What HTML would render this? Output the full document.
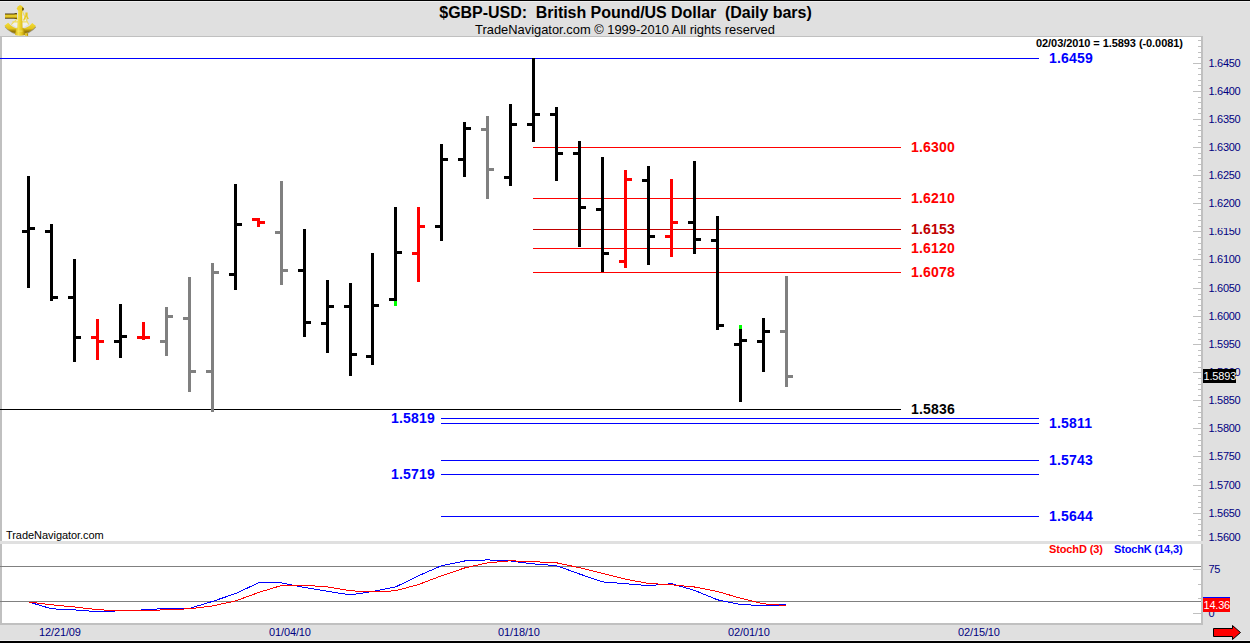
<!DOCTYPE html>
<html><head><meta charset="utf-8"><title>$GBP-USD</title>
<style>
html,body{margin:0;padding:0;}
body{width:1250px;height:643px;overflow:hidden;background:#e0e0e0;position:relative;font-family:"Liberation Sans",sans-serif;}
.t{position:absolute;white-space:pre;line-height:1;}
.ax{position:absolute;left:1208.5px;letter-spacing:-0.3px;font-size:11px;color:#000080;white-space:pre;line-height:1;}
.dt{position:absolute;top:627px;letter-spacing:-0.12px;font-size:11px;color:#000080;white-space:pre;line-height:1;}
.lb{position:absolute;letter-spacing:0.2px;font-size:14px;font-weight:bold;white-space:pre;line-height:1;}
svg{position:absolute;left:0;top:0;}
</style></head><body>

<svg width="1250" height="643" viewBox="0 0 1250 643" shape-rendering="crispEdges">
<rect x="0" y="0" width="1250" height="643" fill="#e0e0e0"/>
<rect x="0" y="0" width="1250" height="1" fill="#000"/>
<rect x="0" y="641" width="1250" height="2" fill="#000"/>
<rect x="0" y="1" width="1250" height="1" fill="#efefef"/>
<rect x="0" y="640" width="1250" height="1" fill="#efefef"/>
<rect x="0" y="36" width="1203" height="506" fill="#c0c0c0"/>
<rect x="2" y="37" width="1199" height="504" fill="#fff"/>
<rect x="0" y="541" width="1203" height="3" fill="#e0e0e0"/>
<rect x="0" y="544" width="1203" height="81" fill="#c0c0c0"/>
<rect x="2" y="544" width="1199" height="79" fill="#fff"/>
<rect x="1198" y="40" width="3" height="1" fill="#c0c0c0"/>
<rect x="1198" y="46" width="3" height="1" fill="#c0c0c0"/>
<rect x="1198" y="52" width="3" height="1" fill="#c0c0c0"/>
<rect x="1198" y="57" width="3" height="1" fill="#c0c0c0"/>
<rect x="1193" y="63" width="8" height="1" fill="#c0c0c0"/>
<rect x="1198" y="68" width="3" height="1" fill="#c0c0c0"/>
<rect x="1198" y="74" width="3" height="1" fill="#c0c0c0"/>
<rect x="1198" y="80" width="3" height="1" fill="#c0c0c0"/>
<rect x="1198" y="85" width="3" height="1" fill="#c0c0c0"/>
<rect x="1193" y="91" width="8" height="1" fill="#c0c0c0"/>
<rect x="1198" y="97" width="3" height="1" fill="#c0c0c0"/>
<rect x="1198" y="102" width="3" height="1" fill="#c0c0c0"/>
<rect x="1198" y="108" width="3" height="1" fill="#c0c0c0"/>
<rect x="1198" y="113" width="3" height="1" fill="#c0c0c0"/>
<rect x="1193" y="119" width="8" height="1" fill="#c0c0c0"/>
<rect x="1198" y="125" width="3" height="1" fill="#c0c0c0"/>
<rect x="1198" y="130" width="3" height="1" fill="#c0c0c0"/>
<rect x="1198" y="136" width="3" height="1" fill="#c0c0c0"/>
<rect x="1198" y="142" width="3" height="1" fill="#c0c0c0"/>
<rect x="1193" y="147" width="8" height="1" fill="#c0c0c0"/>
<rect x="1198" y="153" width="3" height="1" fill="#c0c0c0"/>
<rect x="1198" y="158" width="3" height="1" fill="#c0c0c0"/>
<rect x="1198" y="164" width="3" height="1" fill="#c0c0c0"/>
<rect x="1198" y="170" width="3" height="1" fill="#c0c0c0"/>
<rect x="1193" y="175" width="8" height="1" fill="#c0c0c0"/>
<rect x="1198" y="181" width="3" height="1" fill="#c0c0c0"/>
<rect x="1198" y="187" width="3" height="1" fill="#c0c0c0"/>
<rect x="1198" y="192" width="3" height="1" fill="#c0c0c0"/>
<rect x="1198" y="198" width="3" height="1" fill="#c0c0c0"/>
<rect x="1193" y="203" width="8" height="1" fill="#c0c0c0"/>
<rect x="1198" y="209" width="3" height="1" fill="#c0c0c0"/>
<rect x="1198" y="215" width="3" height="1" fill="#c0c0c0"/>
<rect x="1198" y="220" width="3" height="1" fill="#c0c0c0"/>
<rect x="1198" y="226" width="3" height="1" fill="#c0c0c0"/>
<rect x="1193" y="231" width="8" height="1" fill="#c0c0c0"/>
<rect x="1198" y="237" width="3" height="1" fill="#c0c0c0"/>
<rect x="1198" y="243" width="3" height="1" fill="#c0c0c0"/>
<rect x="1198" y="249" width="3" height="1" fill="#c0c0c0"/>
<rect x="1198" y="254" width="3" height="1" fill="#c0c0c0"/>
<rect x="1193" y="259" width="8" height="1" fill="#c0c0c0"/>
<rect x="1198" y="265" width="3" height="1" fill="#c0c0c0"/>
<rect x="1198" y="271" width="3" height="1" fill="#c0c0c0"/>
<rect x="1198" y="277" width="3" height="1" fill="#c0c0c0"/>
<rect x="1198" y="282" width="3" height="1" fill="#c0c0c0"/>
<rect x="1193" y="288" width="8" height="1" fill="#c0c0c0"/>
<rect x="1198" y="294" width="3" height="1" fill="#c0c0c0"/>
<rect x="1198" y="299" width="3" height="1" fill="#c0c0c0"/>
<rect x="1198" y="305" width="3" height="1" fill="#c0c0c0"/>
<rect x="1198" y="310" width="3" height="1" fill="#c0c0c0"/>
<rect x="1193" y="316" width="8" height="1" fill="#c0c0c0"/>
<rect x="1198" y="322" width="3" height="1" fill="#c0c0c0"/>
<rect x="1198" y="327" width="3" height="1" fill="#c0c0c0"/>
<rect x="1198" y="333" width="3" height="1" fill="#c0c0c0"/>
<rect x="1198" y="339" width="3" height="1" fill="#c0c0c0"/>
<rect x="1193" y="344" width="8" height="1" fill="#c0c0c0"/>
<rect x="1198" y="350" width="3" height="1" fill="#c0c0c0"/>
<rect x="1198" y="355" width="3" height="1" fill="#c0c0c0"/>
<rect x="1198" y="361" width="3" height="1" fill="#c0c0c0"/>
<rect x="1198" y="367" width="3" height="1" fill="#c0c0c0"/>
<rect x="1193" y="372" width="8" height="1" fill="#c0c0c0"/>
<rect x="1198" y="378" width="3" height="1" fill="#c0c0c0"/>
<rect x="1198" y="384" width="3" height="1" fill="#c0c0c0"/>
<rect x="1198" y="389" width="3" height="1" fill="#c0c0c0"/>
<rect x="1198" y="395" width="3" height="1" fill="#c0c0c0"/>
<rect x="1193" y="400" width="8" height="1" fill="#c0c0c0"/>
<rect x="1198" y="406" width="3" height="1" fill="#c0c0c0"/>
<rect x="1198" y="412" width="3" height="1" fill="#c0c0c0"/>
<rect x="1198" y="417" width="3" height="1" fill="#c0c0c0"/>
<rect x="1198" y="423" width="3" height="1" fill="#c0c0c0"/>
<rect x="1193" y="428" width="8" height="1" fill="#c0c0c0"/>
<rect x="1198" y="434" width="3" height="1" fill="#c0c0c0"/>
<rect x="1198" y="440" width="3" height="1" fill="#c0c0c0"/>
<rect x="1198" y="445" width="3" height="1" fill="#c0c0c0"/>
<rect x="1198" y="451" width="3" height="1" fill="#c0c0c0"/>
<rect x="1193" y="456" width="8" height="1" fill="#c0c0c0"/>
<rect x="1198" y="462" width="3" height="1" fill="#c0c0c0"/>
<rect x="1198" y="468" width="3" height="1" fill="#c0c0c0"/>
<rect x="1198" y="474" width="3" height="1" fill="#c0c0c0"/>
<rect x="1198" y="479" width="3" height="1" fill="#c0c0c0"/>
<rect x="1193" y="485" width="8" height="1" fill="#c0c0c0"/>
<rect x="1198" y="490" width="3" height="1" fill="#c0c0c0"/>
<rect x="1198" y="496" width="3" height="1" fill="#c0c0c0"/>
<rect x="1198" y="502" width="3" height="1" fill="#c0c0c0"/>
<rect x="1198" y="507" width="3" height="1" fill="#c0c0c0"/>
<rect x="1193" y="513" width="8" height="1" fill="#c0c0c0"/>
<rect x="1198" y="519" width="3" height="1" fill="#c0c0c0"/>
<rect x="1198" y="524" width="3" height="1" fill="#c0c0c0"/>
<rect x="1198" y="530" width="3" height="1" fill="#c0c0c0"/>
<rect x="1198" y="535" width="3" height="1" fill="#c0c0c0"/>
<rect x="1193" y="569" width="8" height="1" fill="#c0c0c0"/>
<rect x="1198" y="584" width="3" height="1" fill="#c0c0c0"/>
<rect x="1198" y="598" width="3" height="1" fill="#c0c0c0"/>
<rect x="1193" y="613" width="8" height="1" fill="#c0c0c0"/>
<rect x="0" y="58" width="1039" height="1" fill="#0000ff"/>
<rect x="533" y="147" width="368" height="1" fill="#ff0000"/>
<rect x="533" y="198" width="368" height="1" fill="#ff0000"/>
<rect x="533" y="229" width="368" height="1" fill="#c00000"/>
<rect x="533" y="248" width="368" height="1" fill="#ff0000"/>
<rect x="533" y="272" width="368" height="1" fill="#ff0000"/>
<rect x="0" y="409" width="901" height="1" fill="#000"/>
<rect x="441" y="418" width="598" height="1" fill="#0000ff"/>
<rect x="441" y="423" width="598" height="1" fill="#0000ff"/>
<rect x="441" y="460" width="598" height="1" fill="#0000ff"/>
<rect x="441" y="474" width="598" height="1" fill="#0000ff"/>
<rect x="441" y="516" width="598" height="1" fill="#0000ff"/>
<rect x="0" y="566" width="1201" height="1" fill="#808080"/>
<rect x="0" y="601" width="1201" height="1" fill="#808080"/>
<rect x="27" y="176" width="3" height="112" fill="#000000"/>
<rect x="22" y="230" width="5" height="3" fill="#000000"/>
<rect x="30" y="227" width="5" height="3" fill="#000000"/>
<rect x="50" y="224" width="3" height="77" fill="#000000"/>
<rect x="45" y="230" width="5" height="3" fill="#000000"/>
<rect x="53" y="296" width="5" height="3" fill="#000000"/>
<rect x="73" y="259" width="3" height="103" fill="#000000"/>
<rect x="68" y="296" width="5" height="3" fill="#000000"/>
<rect x="76" y="336" width="5" height="3" fill="#000000"/>
<rect x="96" y="319" width="3" height="41" fill="#ff0000"/>
<rect x="91" y="336" width="5" height="3" fill="#ff0000"/>
<rect x="99" y="340" width="5" height="3" fill="#ff0000"/>
<rect x="119" y="304" width="3" height="54" fill="#000000"/>
<rect x="114" y="340" width="5" height="3" fill="#000000"/>
<rect x="122" y="335" width="5" height="3" fill="#000000"/>
<rect x="142" y="322" width="3" height="18" fill="#ff0000"/>
<rect x="137" y="336" width="5" height="3" fill="#ff0000"/>
<rect x="145" y="336" width="5" height="3" fill="#ff0000"/>
<rect x="165" y="307" width="3" height="49" fill="#808080"/>
<rect x="160" y="340" width="5" height="3" fill="#808080"/>
<rect x="168" y="315" width="5" height="3" fill="#808080"/>
<rect x="188" y="277" width="3" height="115" fill="#808080"/>
<rect x="183" y="317" width="5" height="3" fill="#808080"/>
<rect x="191" y="370" width="5" height="3" fill="#808080"/>
<rect x="211" y="263" width="3" height="149" fill="#808080"/>
<rect x="206" y="370" width="5" height="3" fill="#808080"/>
<rect x="214" y="271" width="5" height="3" fill="#808080"/>
<rect x="234" y="184" width="3" height="106" fill="#000000"/>
<rect x="229" y="273" width="5" height="3" fill="#000000"/>
<rect x="237" y="223" width="5" height="3" fill="#000000"/>
<rect x="257" y="218" width="3" height="9" fill="#ff0000"/>
<rect x="252" y="218" width="5" height="3" fill="#ff0000"/>
<rect x="260" y="221" width="5" height="3" fill="#ff0000"/>
<rect x="280" y="181" width="3" height="104" fill="#808080"/>
<rect x="275" y="231" width="5" height="3" fill="#808080"/>
<rect x="283" y="269" width="5" height="3" fill="#808080"/>
<rect x="303" y="229" width="3" height="108" fill="#000000"/>
<rect x="298" y="269" width="5" height="3" fill="#000000"/>
<rect x="306" y="321" width="5" height="3" fill="#000000"/>
<rect x="326" y="280" width="3" height="73" fill="#000000"/>
<rect x="321" y="322" width="5" height="3" fill="#000000"/>
<rect x="329" y="305" width="5" height="3" fill="#000000"/>
<rect x="349" y="283" width="3" height="93" fill="#000000"/>
<rect x="344" y="305" width="5" height="3" fill="#000000"/>
<rect x="352" y="353" width="5" height="3" fill="#000000"/>
<rect x="371" y="253" width="3" height="112" fill="#000000"/>
<rect x="366" y="355" width="5" height="3" fill="#000000"/>
<rect x="374" y="304" width="5" height="3" fill="#000000"/>
<rect x="394" y="207" width="3" height="94" fill="#000000"/>
<rect x="389" y="298" width="5" height="3" fill="#000000"/>
<rect x="397" y="251" width="5" height="3" fill="#000000"/>
<rect x="417" y="207" width="3" height="75" fill="#ff0000"/>
<rect x="412" y="252" width="5" height="3" fill="#ff0000"/>
<rect x="420" y="225" width="5" height="3" fill="#ff0000"/>
<rect x="440" y="144" width="3" height="97" fill="#000000"/>
<rect x="435" y="225" width="5" height="3" fill="#000000"/>
<rect x="443" y="158" width="5" height="3" fill="#000000"/>
<rect x="463" y="122" width="3" height="55" fill="#000000"/>
<rect x="458" y="158" width="5" height="3" fill="#000000"/>
<rect x="466" y="127" width="5" height="3" fill="#000000"/>
<rect x="486" y="116" width="3" height="83" fill="#808080"/>
<rect x="481" y="128" width="5" height="3" fill="#808080"/>
<rect x="489" y="168" width="5" height="3" fill="#808080"/>
<rect x="509" y="104" width="3" height="82" fill="#000000"/>
<rect x="504" y="176" width="5" height="3" fill="#000000"/>
<rect x="512" y="123" width="5" height="3" fill="#000000"/>
<rect x="532" y="58" width="3" height="84" fill="#000000"/>
<rect x="527" y="123" width="5" height="3" fill="#000000"/>
<rect x="535" y="113" width="5" height="3" fill="#000000"/>
<rect x="555" y="107" width="3" height="74" fill="#000000"/>
<rect x="550" y="113" width="5" height="3" fill="#000000"/>
<rect x="558" y="152" width="5" height="3" fill="#000000"/>
<rect x="578" y="141" width="3" height="106" fill="#000000"/>
<rect x="573" y="152" width="5" height="3" fill="#000000"/>
<rect x="581" y="206" width="5" height="3" fill="#000000"/>
<rect x="601" y="157" width="3" height="115" fill="#000000"/>
<rect x="596" y="208" width="5" height="3" fill="#000000"/>
<rect x="604" y="252" width="5" height="3" fill="#000000"/>
<rect x="624" y="170" width="3" height="98" fill="#ff0000"/>
<rect x="619" y="260" width="5" height="3" fill="#ff0000"/>
<rect x="627" y="178" width="5" height="3" fill="#ff0000"/>
<rect x="647" y="166" width="3" height="99" fill="#000000"/>
<rect x="642" y="179" width="5" height="3" fill="#000000"/>
<rect x="650" y="235" width="5" height="3" fill="#000000"/>
<rect x="670" y="179" width="3" height="78" fill="#ff0000"/>
<rect x="665" y="235" width="5" height="3" fill="#ff0000"/>
<rect x="673" y="221" width="5" height="3" fill="#ff0000"/>
<rect x="693" y="161" width="3" height="93" fill="#000000"/>
<rect x="688" y="221" width="5" height="3" fill="#000000"/>
<rect x="696" y="238" width="5" height="3" fill="#000000"/>
<rect x="716" y="216" width="3" height="114" fill="#000000"/>
<rect x="711" y="239" width="5" height="3" fill="#000000"/>
<rect x="719" y="324" width="5" height="3" fill="#000000"/>
<rect x="739" y="329" width="3" height="73" fill="#000000"/>
<rect x="734" y="343" width="5" height="3" fill="#000000"/>
<rect x="742" y="339" width="5" height="3" fill="#000000"/>
<rect x="762" y="318" width="3" height="54" fill="#000000"/>
<rect x="757" y="340" width="5" height="3" fill="#000000"/>
<rect x="765" y="330" width="5" height="3" fill="#000000"/>
<rect x="785" y="276" width="3" height="111" fill="#808080"/>
<rect x="780" y="330" width="5" height="3" fill="#808080"/>
<rect x="788" y="375" width="5" height="3" fill="#808080"/>
<rect x="394" y="301" width="3" height="5" fill="#00ff00"/>
<rect x="739" y="325" width="3" height="4" fill="#00ff00"/>
<polyline points="28.5,601.9 51.5,608.8 74.5,609.9 97.5,611.7 120.5,610.8 143.5,609.9 166.5,608.4 189.5,608.4 212.5,601.4 235.5,593.6 258.5,582.8 281.5,582.9 304.5,587.5 327.5,591.3 350.5,594.9 372.5,591.5 395.5,587.0 418.5,575.8 441.5,565.7 464.5,561.0 487.5,559.9 510.5,561.0 533.5,563.9 556.5,565.7 579.5,574.0 602.5,581.9 625.5,583.7 648.5,585.7 671.5,583.7 694.5,590.4 717.5,599.8 740.5,604.5 763.5,605.6 786.5,604.7" fill="none" stroke="#0000ff" stroke-width="1"/>
<polyline points="28.5,601.9 51.5,604.8 74.5,607.0 97.5,609.7 120.5,610.8 143.5,610.8 166.5,609.7 189.5,608.8 212.5,605.9 235.5,601.0 258.5,592.5 281.5,585.5 304.5,585.2 327.5,587.0 350.5,590.8 372.5,591.9 395.5,590.8 418.5,584.5 441.5,575.8 464.5,568.0 487.5,562.8 510.5,560.8 533.5,561.7 556.5,562.8 579.5,567.7 602.5,573.3 625.5,579.2 648.5,583.4 671.5,584.8 694.5,587.0 717.5,591.5 740.5,598.2 763.5,603.8 786.5,605.6" fill="none" stroke="#ff0000" stroke-width="1"/>
<rect x="1203" y="369" width="33" height="14" fill="#000"/>
<rect x="1203" y="597" width="27" height="14" fill="#0000ff"/>
<rect x="1203" y="598" width="27" height="14" fill="#ff0000"/>
</svg>
<svg width="1250" height="643" viewBox="0 0 1250 643"><path d="M1213.5 628.5 H1232.5 V625.5 L1240.5 632.5 L1232.5 639.5 V636.5 H1213.5 Z" fill="#ff0000" stroke="#000" stroke-width="1"/></svg>
<svg width="44" height="40" viewBox="0 0 44 40" style="position:absolute;left:0;top:0;">
<defs>
<linearGradient id="tel" x1="0" y1="0" x2="0" y2="1">
<stop offset="0" stop-color="#6a5a40"/><stop offset="0.12" stop-color="#5a4810"/><stop offset="0.3" stop-color="#d9b91a"/><stop offset="0.5" stop-color="#f3dc3a"/><stop offset="0.8" stop-color="#b8960f"/><stop offset="1" stop-color="#3a2e08"/>
</linearGradient>
<linearGradient id="arm" x1="0" y1="0" x2="1" y2="0">
<stop offset="0" stop-color="#d9b818"/><stop offset="0.35" stop-color="#f4e04a"/><stop offset="0.7" stop-color="#e2c21c"/><stop offset="1" stop-color="#a88708"/>
</linearGradient>
<linearGradient id="arc" x1="0" y1="0" x2="0" y2="1">
<stop offset="0" stop-color="#f0d832"/><stop offset="0.6" stop-color="#e4c41c"/><stop offset="1" stop-color="#9a7a06"/>
</linearGradient>
</defs>
<!-- shadow under arc -->
<path d="M6.6 24.9 A17.5 17.5 0 0 0 33.9 25.1" fill="none" stroke="#5a4808" stroke-width="5.2" opacity="0.5" transform="translate(0.2,0.6)"/>
<!-- interior glow -->
<path d="M17.6 18.6 L11.6 24.2 Q20 31 28.4 24.2 L24 15 Z" fill="#f6f6f0" opacity="0.75"/>
<!-- frame legs -->
<path d="M17.6 18.6 L11.2 24.6 M22.2 11 L28.6 24.6 M12.4 21.9 H27.6" fill="none" stroke="#f0dc60" stroke-width="1.1"/>
<!-- mirror -->
<path d="M25.4 12.6 h2.2 v3.6 l1.2 2.6 l-1.3 0.6 l-1.4 -2.8 l-1.9 4.2 l-1.2 -0.6 l2.4 -5 z" fill="#e6c822"/>
<!-- arc limb -->
<path d="M6.3 24.3 A17.5 17.5 0 0 0 34.1 24.6" fill="none" stroke="url(#arc)" stroke-width="4.8"/>
<!-- telescope -->
<rect x="5" y="13.4" width="10" height="5.3" fill="url(#tel)"/>
<rect x="14.6" y="13" width="2.4" height="6" fill="url(#tel)"/>
<!-- arm -->
<path d="M18.2 9 L21.9 9 L22.6 28 L24.2 28.6 L25 35 Q20 36.6 15 35 L16.2 28.6 L17.4 28 Z" fill="url(#arm)"/>
<!-- knob -->
<path d="M16.6 8.6 L18.2 6.2 L20 5 L22 6 L23.8 8.2 L23.6 9.8 L21.8 10.6 L18 10.4 Z" fill="#ecd02a"/>
<path d="M22.2 7.2 L23.9 8.3 L23.7 10.2 L22 10.8 Z" fill="#6a5408"/>
<!-- base highlight & handle -->
<rect x="17.2" y="30.6" width="5.4" height="1" fill="#f3e36a" opacity="0.8"/>
<rect x="25" y="33.3" width="3" height="2.5" fill="#e6c822"/>
<rect x="27.2" y="33.3" width="0.9" height="2.5" fill="#a88708"/>
</svg>

<div class="t" id="title" style="left:0;width:1250px;text-align:center;top:5px;padding-left:1px;box-sizing:border-box;letter-spacing:-0.04px;font-size:16px;font-weight:bold;color:#000;">$GBP-USD:  British Pound/US Dollar  (Daily bars)</div>
<div class="t" id="sub" style="left:0;width:1250px;text-align:center;top:24px;font-size:12.9px;color:#000;">TradeNavigator.com © 1999-2010 All rights reserved</div>
<div class="t" id="quote" style="left:1036px;top:38px;letter-spacing:-0.07px;font-size:11px;font-weight:bold;color:#000;">02/03/2010 = 1.5893 (-0.0081)</div>
<div class="t" id="tn" style="left:6px;top:530px;letter-spacing:-0.05px;font-size:11px;color:#000;">TradeNavigator.com</div>
<div class="t" id="sd" style="left:1049px;top:544px;letter-spacing:-0.12px;font-size:11px;font-weight:bold;color:#ff0000;">StochD (3)</div>
<div class="t" id="sk" style="left:1114px;top:544px;letter-spacing:-0.14px;font-size:11px;font-weight:bold;color:#0000ff;">StochK (14,3)</div>
<div class="ax" style="top:58px;">1.6450</div>
<div class="ax" style="top:86px;">1.6400</div>
<div class="ax" style="top:114px;">1.6350</div>
<div class="ax" style="top:142px;">1.6300</div>
<div class="ax" style="top:170px;">1.6250</div>
<div class="ax" style="top:198px;">1.6200</div>
<div class="ax" style="top:226px;">1.6150</div>
<div class="ax" style="top:254px;">1.6100</div>
<div class="ax" style="top:283px;">1.6050</div>
<div class="ax" style="top:311px;">1.6000</div>
<div class="ax" style="top:339px;">1.5950</div>
<div class="ax" style="top:367px;">1.5900</div>
<div class="ax" style="top:395px;">1.5850</div>
<div class="ax" style="top:423px;">1.5800</div>
<div class="ax" style="top:451px;">1.5750</div>
<div class="ax" style="top:480px;">1.5700</div>
<div class="ax" style="top:508px;">1.5650</div>
<div class="ax" style="top:532px;">1.5600</div>
<div class="t" style="left:1205px;top:224px;width:43px;height:4px;background:#e0e0e0;"></div>
<div class="ax" style="top:564px;">75</div>
<div class="ax" style="top:608px;">0</div>
<div class="t" style="left:1203px;top:369px;width:33px;height:14px;background:#000;color:#fff;font-size:11px;"><span style="position:absolute;left:0.5px;top:2px;letter-spacing:-0.15px;">1.5893</span></div>
<div class="t" style="left:1203px;top:598px;width:27px;height:14px;background:#ff0000;color:#fff;font-size:11px;"><span style="position:absolute;left:0.5px;top:2px;letter-spacing:-0.2px;">14.36</span></div>
<div class="dt" style="left:39px;">12/21/09</div>
<div class="dt" style="left:269px;">01/04/10</div>
<div class="dt" style="left:498px;">01/18/10</div>
<div class="dt" style="left:728px;">02/01/10</div>
<div class="dt" style="left:958px;">02/15/10</div>
<div class="lb" style="left:1049px;top:51px;color:#0000ff;">1.6459</div>
<div class="lb" style="left:911px;top:140px;color:#ff0000;">1.6300</div>
<div class="lb" style="left:911px;top:191px;color:#ff0000;">1.6210</div>
<div class="lb" style="left:911px;top:222px;color:#c00000;">1.6153</div>
<div class="lb" style="left:911px;top:241px;color:#ff0000;">1.6120</div>
<div class="lb" style="left:911px;top:265px;color:#ff0000;">1.6078</div>
<div class="lb" style="left:911px;top:402px;color:#000000;">1.5836</div>
<div class="lb" style="left:391px;top:411px;color:#0000ff;">1.5819</div>
<div class="lb" style="left:391px;top:467px;color:#0000ff;">1.5719</div>
<div class="lb" style="left:1049px;top:416px;color:#0000ff;">1.5811</div>
<div class="lb" style="left:1049px;top:453px;color:#0000ff;">1.5743</div>
<div class="lb" style="left:1049px;top:509px;color:#0000ff;">1.5644</div>
</body></html>
